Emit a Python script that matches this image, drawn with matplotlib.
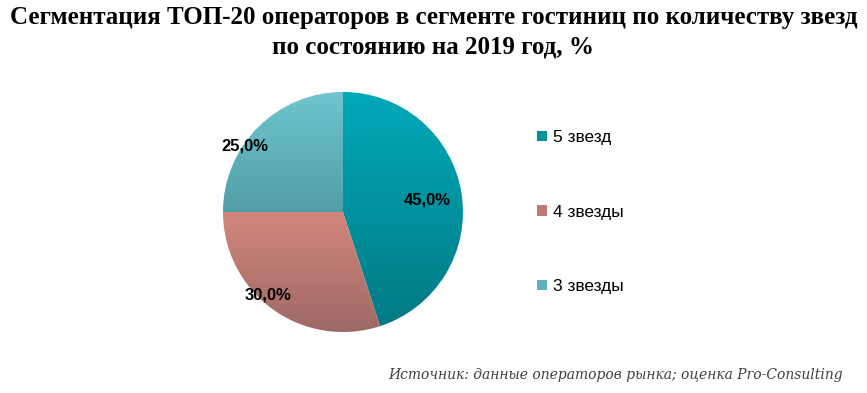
import numpy as np
import matplotlib.pyplot as plt
from matplotlib.colors import LinearSegmentedColormap
from matplotlib.patches import Patch

# данные
categories = ["5 звезд", "4 звезды", "3 звезды"]
values = [45.0, 30.0, 25.0]

title = "Сегментация ТОП-20 операторов в сегменте гостиниц по количеству звезд\nпо состоянию на 2019 год, %"
source = "Источник: данные операторов рынка; оценка Pro-Consulting"

# цвета: верх (светлее) и низ (темнее) градиента каждого сектора
top_colors = ["#00a9b9", "#d2877c", "#6fc5d0"]
bottom_colors = ["#007a84", "#9e6965", "#529ea6"]
legend_colors = ["#00939f", "#c07a72", "#5fb2bd"]

# подписи: (доля радиуса, угол в градусах)
label_pos = [(0.71, 8), (0.93, -132), (0.99, 146)]

fig = plt.figure(figsize=(8.67, 3.93), dpi=100)
ax = fig.add_axes([0.2572, 0.1552, 0.2768, 0.6107])

wedges, _ = ax.pie(values, startangle=90, counterclock=False, radius=1,
                   wedgeprops=dict(linewidth=0))
ax.set_aspect("equal")
ax.axis("off")

# вертикальный градиент в пределах каждого сектора
grad = np.linspace(0, 1, 256).reshape(-1, 1)
for w, c1, c2 in zip(wedges, top_colors, bottom_colors):
    w.set_alpha(0)
    ext = w.get_path().get_extents()
    cmap = LinearSegmentedColormap.from_list("g", [c2, c1])
    im = ax.imshow(grad, cmap=cmap, extent=[-1, 1, ext.y0, ext.y1],
                   origin="lower", aspect="auto", zorder=1)
    im.set_clip_path(w)
ax.set_xlim(-1, 1)
ax.set_ylim(-1, 1)

for v, (r, a) in zip(values, label_pos):
    t = np.deg2rad(a)
    ax.text(r * np.cos(t), r * np.sin(t), f"{v:.1f}%".replace(".", ","),
            ha="center", va="center", fontsize=12, fontweight="bold",
            family="Liberation Sans", color="black", zorder=3)

handles = [Patch(facecolor=c, edgecolor="none") for c in legend_colors]
fig.legend(handles, categories, loc="center left", bbox_to_anchor=(0.6015, 0.46),
           frameon=False, prop={"family": "Liberation Sans", "size": 12.5},
           handlelength=0.55, handleheight=0.55, handletextpad=0.35,
           labelspacing=3.43)

fig.text(0.5, 0.985, title, ha="center", va="top", fontsize=18,
         fontweight="bold", family="Liberation Serif", linespacing=1.36)
fig.text(0.972, 0.045, source, ha="right", va="center", fontsize=10,
         style="italic", family="DejaVu Serif", color="#404040")

fig.savefig("out.png", dpi=100, facecolor="white")
